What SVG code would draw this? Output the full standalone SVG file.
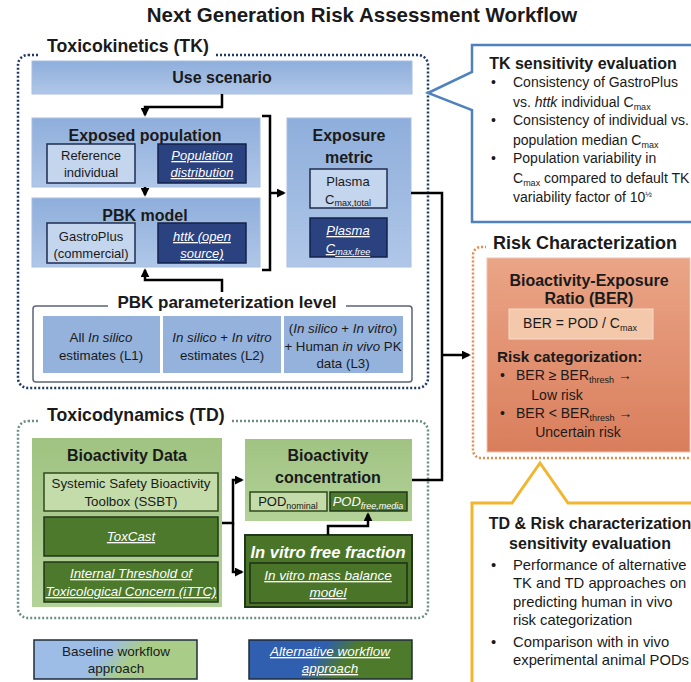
<svg xmlns="http://www.w3.org/2000/svg" width="691" height="682" viewBox="0 0 691 682">
<style>
text{font-family:"Liberation Sans",Arial,sans-serif;fill:#1a1a1a}
.b{font-weight:bold}
.i{font-style:italic}
.w{fill:#fff}
.u{text-decoration:underline}
.m{text-anchor:middle}
.conn{fill:none;stroke:#000;stroke-width:2.5}
.lb{fill:#c4d5ee;stroke:#1f2d4f;stroke-width:1.5}
.db{fill:#2a4280;stroke:#15224a;stroke-width:1.5}
.lg{fill:#c3dcaa;stroke:#2f4a1b;stroke-width:1.5}
.dg{fill:#4d792c;stroke:#22361a;stroke-width:1.5}
</style>
<defs>
<linearGradient id="blueG" x1="0" y1="0" x2="0" y2="1"><stop offset="0" stop-color="#8eaedb"/><stop offset="1" stop-color="#b0c7e8"/></linearGradient>
<linearGradient id="greenG" x1="0" y1="0" x2="0" y2="1"><stop offset="0" stop-color="#a0c382"/><stop offset="1" stop-color="#b3d298"/></linearGradient>
<linearGradient id="salG" x1="0" y1="0" x2="0" y2="1"><stop offset="0" stop-color="#eaa587"/><stop offset="1" stop-color="#d97e5c"/></linearGradient>
<linearGradient id="legA" gradientUnits="userSpaceOnUse" x1="105" y1="652" x2="125" y2="668"><stop offset="0" stop-color="#9dbde6"/><stop offset="1" stop-color="#a9cd88"/></linearGradient>
<linearGradient id="legB" gradientUnits="userSpaceOnUse" x1="320" y1="652" x2="340" y2="668"><stop offset="0" stop-color="#2f5fae"/><stop offset="1" stop-color="#4e7a2b"/></linearGradient>
<marker id="ah" viewBox="0 0 10 10" refX="8" refY="5" markerWidth="9" markerHeight="9" markerUnits="userSpaceOnUse" orient="auto"><path d="M0,0 L10,5 L0,10 Z" fill="#000"/></marker>
</defs>
<rect width="691" height="682" fill="#fff"/>

<text class="b m" x="362" y="22" font-size="20.5">Next Generation Risk Assessment Workflow</text>

<!-- TK section -->
<g id="tk-section">
<rect x="18" y="55" width="410" height="333" rx="10" fill="none" stroke="#1f3864" stroke-width="2.5" stroke-dasharray="2 2"/>
<rect x="40" y="44" width="176" height="18" fill="#fff"/>
<text class="b" x="47" y="52" font-size="17.7">Toxicokinetics (TK)</text>
</g>

<g id="use-scenario">
<rect x="32" y="61" width="380" height="33" fill="url(#blueG)" stroke="#a7bfe3" stroke-width="1"/>
<text class="b m" x="222" y="83" font-size="16">Use scenario</text>
</g>

<g id="exposed-population">
<rect x="32" y="118" width="228" height="69" fill="url(#blueG)" stroke="#a7bfe3" stroke-width="1"/>
<text class="b m" x="145" y="141" font-size="16">Exposed population</text>
<rect class="lb" x="47" y="144" width="88" height="39"/>
<text class="m" x="91" y="160" font-size="13">Reference</text>
<text class="m" x="91" y="177" font-size="13">individual</text>
<rect class="db" x="158" y="144" width="88" height="39"/>
<text class="m i w u" x="202" y="160" font-size="13">Population</text>
<text class="m i w u" x="202" y="177" font-size="13">distribution</text>
</g>

<g id="pbk-model">
<rect x="32" y="198" width="228" height="69" fill="url(#blueG)" stroke="#a7bfe3" stroke-width="1"/>
<text class="b m" x="145" y="221" font-size="16">PBK model</text>
<rect class="lb" x="47" y="223" width="88" height="40"/>
<text class="m" x="91" y="241" font-size="13">GastroPlus</text>
<text class="m" x="91" y="258" font-size="13">(commercial)</text>
<rect class="db" x="158" y="223" width="88" height="40"/>
<text class="m i w u" x="202" y="241" font-size="13">httk (open</text>
<text class="m i w u" x="202" y="258" font-size="13">source)</text>
</g>

<g id="exposure-metric">
<rect x="287" y="118" width="124" height="149" fill="url(#blueG)" stroke="#a7bfe3" stroke-width="1"/>
<text class="b m" x="349" y="141" font-size="16">Exposure</text>
<text class="b m" x="349" y="163" font-size="16">metric</text>
<rect class="lb" x="310" y="169" width="77" height="39"/>
<text class="m" x="348" y="186" font-size="13">Plasma</text>
<text class="m" x="348" y="204" font-size="13">C<tspan font-size="9" dy="2">max,total</tspan></text>
<rect class="db" x="310" y="218" width="77" height="39"/>
<text class="m i w u" x="348" y="235" font-size="13">Plasma</text>
<text class="m i w u" x="348" y="253" font-size="13">C<tspan font-size="9" dy="2">max,free</tspan></text>
</g>

<g id="pbk-parameterization">
<rect x="33" y="306" width="379" height="76" rx="3" fill="none" stroke="#5a6378" stroke-width="1.5"/>
<rect x="108" y="294" width="238" height="20" fill="#fff"/>
<text class="b m" x="227" y="308" font-size="17">PBK parameterization level</text>
<rect x="43" y="316" width="117" height="57" fill="#94b2dc"/>
<text class="m" x="101" y="342" font-size="13.3">All <tspan class="i">In silico</tspan></text>
<text class="m" x="101" y="360" font-size="13.3">estimates (L1)</text>
<rect x="163" y="316" width="118" height="57" fill="#94b2dc"/>
<text class="m" x="222" y="342" font-size="13.3"><tspan class="i">In silico</tspan> + <tspan class="i">In vitro</tspan></text>
<text class="m" x="222" y="360" font-size="13.3">estimates (L2)</text>
<rect x="284" y="316" width="119" height="57" fill="#94b2dc"/>
<text class="m" x="343" y="333" font-size="13.3">(<tspan class="i">In silico</tspan> + <tspan class="i">In vitro</tspan>)</text>
<text class="m" x="343" y="351" font-size="13.3">+ Human <tspan class="i">in vivo</tspan> PK</text>
<text class="m" x="343" y="368" font-size="13.3">data (L3)</text>
</g>

<!-- TK sensitivity callout -->
<g id="tk-sensitivity">
<path d="M472,45 H705 V222 H472 V110 L428,93 L472,72 Z" fill="#fff" stroke="#4f81bd" stroke-width="2.5"/>
<text class="b m" x="583" y="69" font-size="16">TK sensitivity evaluation</text>
<g font-size="14">
<text x="491" y="87">•</text><text x="513" y="87">Consistency of GastroPlus</text>
<text x="513" y="107">vs. <tspan class="i">httk</tspan> individual C<tspan font-size="9" dy="3">max</tspan></text>
<text x="491" y="125">•</text><text x="513" y="125">Consistency of individual vs.</text>
<text x="513" y="145">population median C<tspan font-size="9" dy="3">max</tspan></text>
<text x="491" y="163">•</text><text x="513" y="163">Population variability in</text>
<text x="513" y="183">C<tspan font-size="9" dy="3">max</tspan><tspan dy="-3"> compared to default TK</tspan></text>
<text x="513" y="202">variability factor of 10<tspan font-size="8" dy="-5">½</tspan></text>
</g>
</g>

<!-- Risk characterization -->
<g id="risk-characterization">
<rect x="473" y="247" width="240" height="211" rx="8" fill="none" stroke="#e5894c" stroke-width="2.5" stroke-dasharray="2 2"/>
<rect x="486" y="232" width="205" height="22" fill="#fff"/>
<text class="b" x="493" y="249" font-size="18">Risk Characterization</text>
<rect x="487" y="258" width="203" height="194" fill="url(#salG)" stroke="#f1c2aa" stroke-width="1"/>
<text class="b m" x="589" y="286" font-size="16">Bioactivity-Exposure</text>
<text class="b m" x="589" y="304" font-size="16">Ratio (BER)</text>
<rect x="509" y="309" width="144" height="30" fill="#f4c8ab" stroke="#f8dccb" stroke-width="1"/>
<text class="m" x="580" y="328" font-size="14">BER = POD / C<tspan font-size="9" dy="3">max</tspan></text>
<text class="b" x="497" y="362" font-size="15.3">Risk categorization:</text>
<text x="500" y="380" font-size="14">•</text>
<text x="516" y="380" font-size="14">BER ≥ BER<tspan font-size="9" dy="3">thresh</tspan><tspan dy="-3"> →</tspan></text>
<text class="m" x="557" y="400" font-size="14">Low risk</text>
<text x="500" y="418" font-size="14">•</text>
<text x="516" y="418" font-size="14">BER &lt; BER<tspan font-size="9" dy="3">thresh</tspan><tspan dy="-3"> →</tspan></text>
<text class="m" x="578" y="437" font-size="14">Uncertain risk</text>
</g>

<!-- TD & Risk sensitivity callout -->
<g id="td-risk-sensitivity">
<path d="M472,503 H512 L540,463 L568,503 H705 V700 H472 Z" fill="#fff" stroke="#f2b530" stroke-width="3"/>
<text class="b m" x="590" y="529" font-size="16">TD &amp; Risk characterization</text>
<text class="b m" x="590" y="549" font-size="16">sensitivity evaluation</text>
<g font-size="14.8">
<text x="491" y="570">•</text><text x="513" y="570">Performance of alternative</text>
<text x="513" y="588">TK and TD approaches on</text>
<text x="513" y="607">predicting human in vivo</text>
<text x="513" y="625">risk categorization</text>
<text x="491" y="647">•</text><text x="513" y="647">Comparison with in vivo</text>
<text x="513" y="665">experimental animal PODs</text>
</g>
</g>

<!-- TD section -->
<g id="td-section">
<rect x="18" y="421" width="410" height="197" rx="10" fill="none" stroke="#6d8e86" stroke-width="2.5" stroke-dasharray="2 2"/>
<rect x="40" y="408" width="192" height="18" fill="#fff"/>
<text class="b" x="47" y="421" font-size="17.7">Toxicodynamics (TD)</text>
</g>

<g id="bioactivity-data">
<rect x="32" y="438" width="190" height="169" fill="url(#greenG)"/>
<text class="b m" x="127" y="461" font-size="16">Bioactivity Data</text>
<rect class="lg" x="44" y="473" width="174" height="38"/>
<text class="m" x="131" y="488" font-size="13.3">Systemic Safety Bioactivity</text>
<text class="m" x="131" y="506" font-size="13.3">Toolbox (SSBT)</text>
<rect class="dg" x="44" y="517" width="174" height="39"/>
<text class="m i w u" x="131" y="541" font-size="13.3">ToxCast</text>
<rect class="dg" x="44" y="562" width="174" height="40"/>
<text class="m i w u" x="131" y="578" font-size="13.3">Internal Threshold of</text>
<text class="m i w u" x="131" y="596" font-size="13.3">Toxicological Concern (iTTC)</text>
</g>

<g id="bioactivity-concentration">
<rect x="245" y="439" width="167" height="82" fill="url(#greenG)"/>
<text class="b m" x="328" y="461" font-size="16">Bioactivity</text>
<text class="b m" x="328" y="483" font-size="16">concentration</text>
<rect class="lg" x="250" y="492" width="77" height="19"/>
<text class="m" x="288" y="506" font-size="13">POD<tspan font-size="9" dy="3">nominal</tspan></text>
<rect class="dg" x="330" y="492" width="77" height="19"/>
<text class="m i w" x="368" y="506" font-size="13">POD<tspan font-size="9" dy="3">free,media</tspan></text>
</g>

<g id="in-vitro-free-fraction">
<rect x="245" y="535" width="167" height="72" fill="#4a7528" stroke="#22361a" stroke-width="2"/>
<text class="b i w m" x="328" y="558" font-size="16.5">In vitro free fraction</text>
<rect x="250" y="563" width="157" height="40" fill="#4a7528" stroke="#1e2f14" stroke-width="1.5"/>
<text class="m i w u" x="328" y="580" font-size="13.5">In vitro mass balance</text>
<text class="m i w u" x="328" y="597" font-size="13.5">model</text>
</g>

<!-- Legend -->
<g id="legend-baseline">
<rect x="34" y="640" width="163" height="39" fill="url(#legA)" stroke="#1f2d3a" stroke-width="1.5"/>
<text class="m" x="116" y="656" font-size="13.5">Baseline workflow</text>
<text class="m" x="116" y="673" font-size="13.5">approach</text>
</g>
<g id="legend-alternative">
<rect x="249" y="640" width="163" height="39" fill="url(#legB)" stroke="#1f2d3a" stroke-width="1.5"/>
<text class="m i w u" x="330" y="656" font-size="13.5">Alternative workflow</text>
<text class="m i w u" x="330" y="673" font-size="13.5">approach</text>
</g>

<!-- Connectors -->
<g id="connectors">
<path class="conn" d="M222,94 V107 H145 V115" marker-end="url(#ah)"/>
<path class="conn" d="M145,187 V195" marker-end="url(#ah)"/>
<path class="conn" d="M222,292 V280 H145 V270" marker-end="url(#ah)"/>
<path class="conn" d="M262,116 H270 V270 H262"/>
<path class="conn" d="M270,193 H284" marker-end="url(#ah)"/>
<path class="conn" d="M411,193 H442 V480 H412"/>
<path class="conn" d="M442,355 H469" marker-end="url(#ah)"/>
<path class="conn" d="M222,523 H233 V480 H242" marker-end="url(#ah)"/>
<path class="conn" d="M233,523 V572 H242" marker-end="url(#ah)"/>
<path class="conn" d="M328,535 V526 H368 V514" marker-end="url(#ah)"/>
</g>
</svg>
